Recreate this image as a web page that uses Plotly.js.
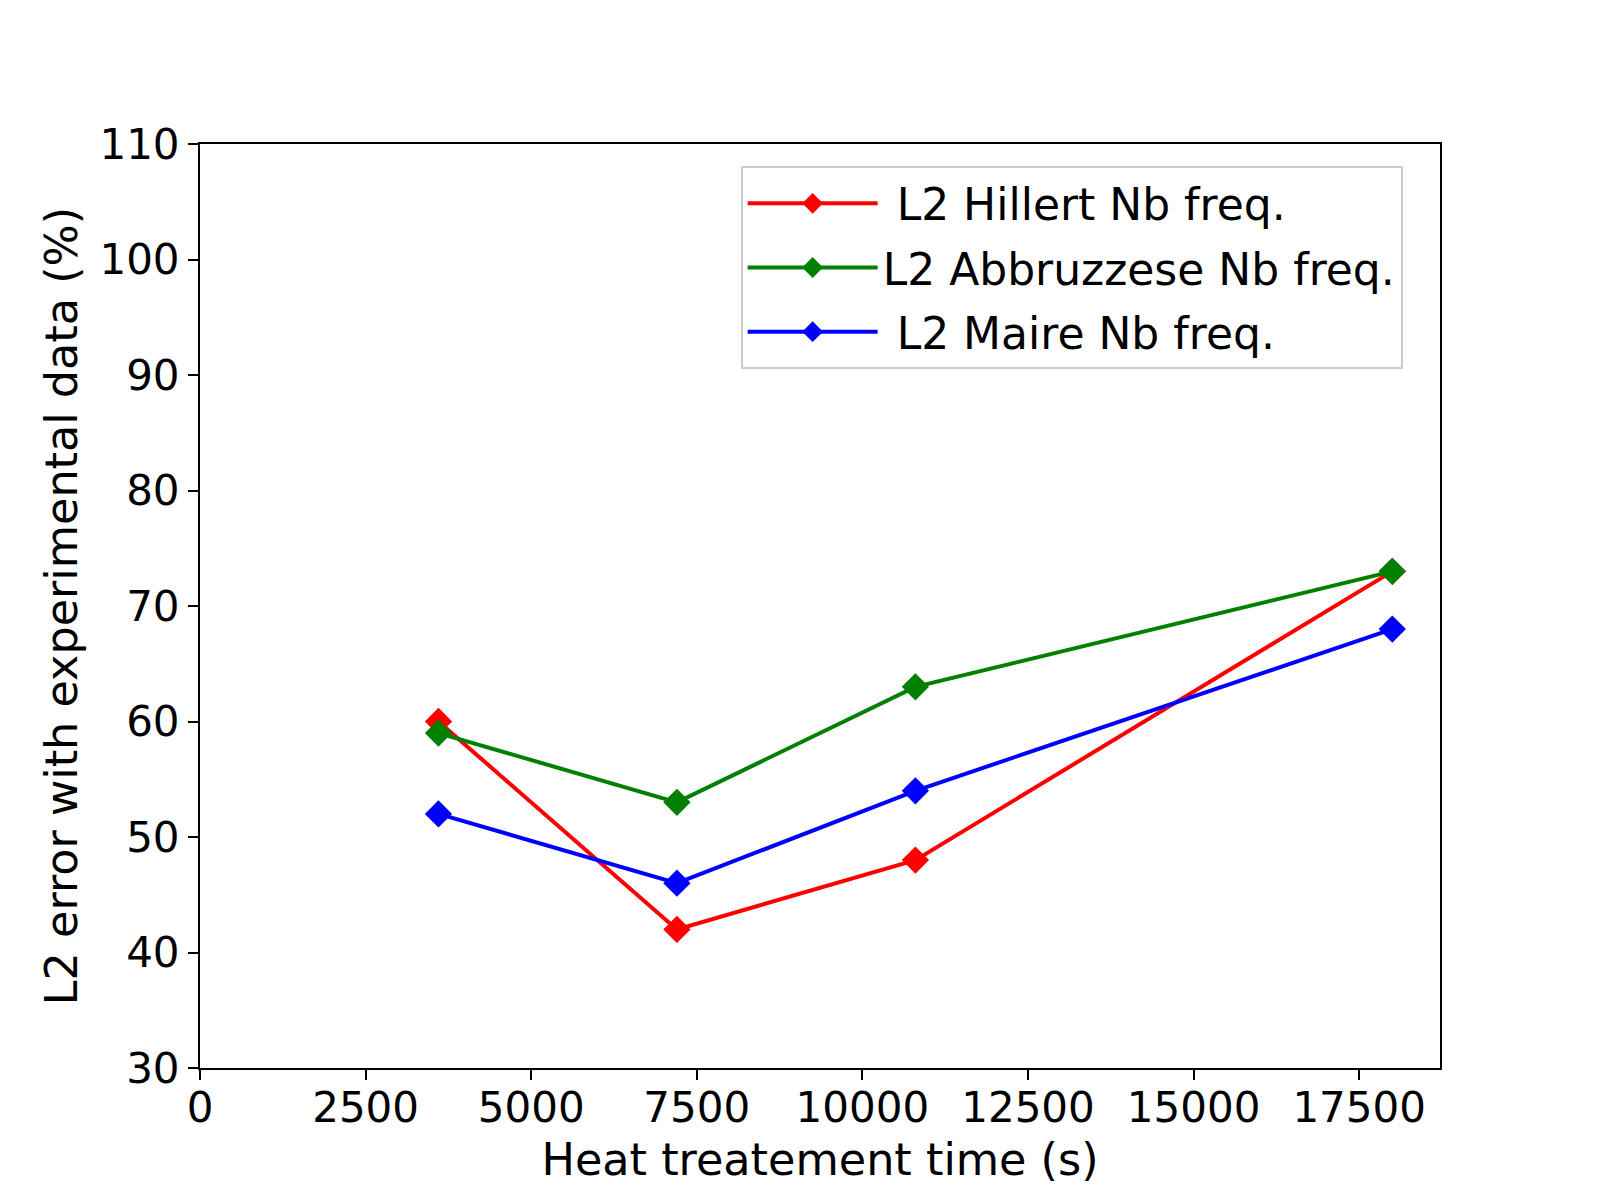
<!DOCTYPE html>
<html>
<head>
<meta charset="utf-8">
<script src="https://cdn.plot.ly/plotly-3.0.1.min.js"></script>
<style>
  html, body { margin: 0; padding: 0; background: #ffffff; }
  #chart { width: 1600px; height: 1200px; }
</style>
</head>
<body>
<div id="chart"></div>
<script>
"use strict";

// Heat treatment times (s)
const times = [3600, 7200, 10800, 18000];

// L2 error (%) per model
const hillert = [60, 42, 48, 73];
const abbruzzese = [59, 53, 63, 73];
const maire = [52, 46, 54, 68];

const seriesNames = ["\u00a0L2 Hillert Nb freq.", "L2 Abbruzzese Nb freq.", "\u00a0L2 Maire Nb freq."];
const seriesColors = ["#ff0000", "#008000", "#0000ff"];

const xTicks = [0, 2500, 5000, 7500, 10000, 12500, 15000, 17500];
const yTicks = [30, 40, 50, 60, 70, 80, 90, 100, 110];

const FONT = "DejaVu Sans, sans-serif";

const traces = [hillert, abbruzzese, maire].map((y, i) => ({
  type: "scatter",
  mode: "lines+markers",
  name: seriesNames[i],
  legendgroup: "g" + i,
  x: times,
  y,
  line: { color: seriesColors[i], width: 4 },
  marker: { color: seriesColors[i], symbol: "diamond", size: 21 },
}));

const axisBase = {
  showline: true,
  mirror: true,
  linecolor: "#000000",
  linewidth: 2,
  showgrid: false,
  zeroline: false,
  ticks: "outside",
  ticklen: 10,
  tickwidth: 2,
  tickcolor: "#000000",
  tickfont: { family: FONT, size: 42, color: "#000000" },
};

const layout = {
  width: 1600,
  height: 1200,
  paper_bgcolor: "#ffffff",
  plot_bgcolor: "#ffffff",
  font: { family: FONT, color: "#000000" },
  margin: { l: 200, r: 160, t: 144, b: 132 },
  showlegend: true,
  legend: {
    x: 0.436,
    y: 0.976,
    xanchor: "left",
    yanchor: "top",
    bgcolor: "rgba(255,255,255,0.8)",
    bordercolor: "#cccccc",
    borderwidth: 2,
    font: { family: FONT, size: 44, color: "#000000" },
    itemwidth: 130,
    tracegroupgap: 4,
  },
  xaxis: {
    ...axisBase,
    range: [0, 18720],
    tickvals: xTicks,
    ticktext: xTicks.map(String),
    ticklabelstandoff: -8,
    title: { text: "Heat treatement time (s)", font: { family: FONT, size: 44.5 }, standoff: 12 },
  },
  yaxis: {
    ...axisBase,
    range: [30, 110],
    tickvals: yTicks,
    ticktext: yTicks.map(String),
    title: { text: "L2 error with experimental data (%)", font: { family: FONT, size: 44.5 }, standoff: 8 },
  },
};

Plotly.newPlot("chart", traces, layout, { displayModeBar: false, staticPlot: true });
</script>
</body>
</html>
